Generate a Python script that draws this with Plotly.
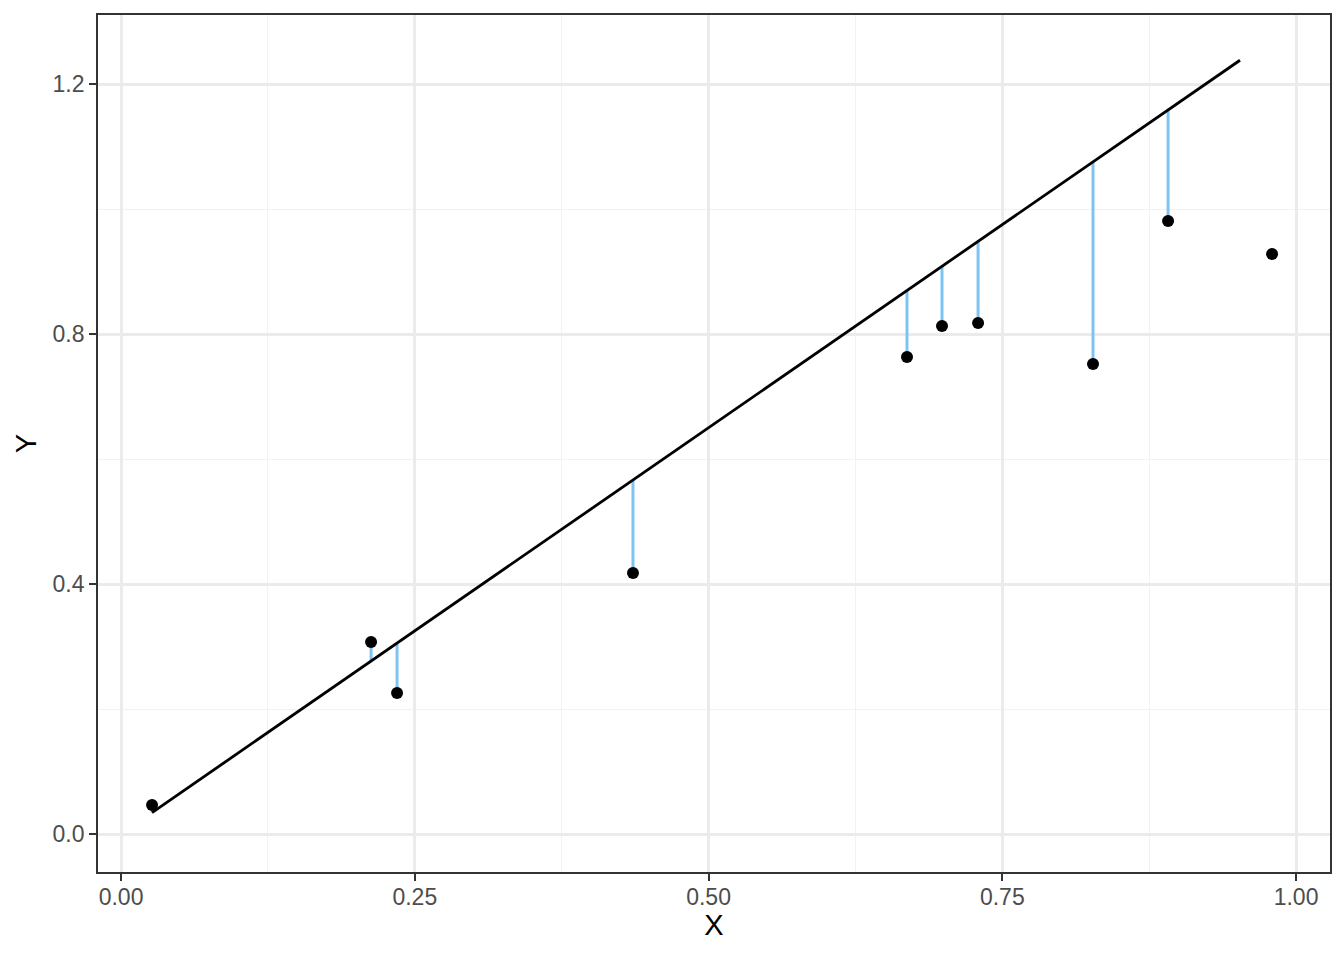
import plotly.graph_objects as go

x_vals = [0.0264, 0.2128, 0.2349, 0.4357, 0.6689, 0.6987, 0.7294, 0.8272, 0.8911, 0.9796]
y_vals = [0.0464, 0.3072, 0.2256, 0.4176, 0.7632, 0.8128, 0.8176, 0.7520, 0.9808, 0.9280]
slope = 1.3
intercept = 0.0
line_x = [0.0264, 0.9523]
n_resid = 9

x_ticks = [0.0, 0.25, 0.5, 0.75, 1.0]
x_tick_text = ["0.00", "0.25", "0.50", "0.75", "1.00"]
y_ticks = [0.0, 0.4, 0.8, 1.2]
y_tick_text = ["0.0", "0.4", "0.8", "1.2"]

fig = go.Figure()

seg_x, seg_y = [], []
for xv, yv in zip(x_vals[:n_resid], y_vals[:n_resid]):
    seg_x += [xv, xv, None]
    seg_y += [yv, intercept + slope * xv, None]
fig.add_trace(go.Scatter(x=seg_x, y=seg_y, mode="lines",
                         line=dict(color="#7DC4F2", width=3), hoverinfo="skip"))

fig.add_trace(go.Scatter(x=line_x, y=[intercept + slope * v for v in line_x], mode="lines",
                         line=dict(color="black", width=2.8)))

fig.add_trace(go.Scatter(x=x_vals, y=y_vals, mode="markers",
                         marker=dict(color="black", size=12)))

axis_common = dict(
    showline=True, linecolor="#333333", linewidth=1.8, mirror=True,
    ticks="outside", ticklen=7, tickcolor="#333333", tickwidth=2,
    gridcolor="#EBEBEB", gridwidth=2.5,
    minor=dict(showgrid=True, gridcolor="#F2F2F2", gridwidth=1.3),
    zeroline=False,
    tickfont=dict(family="Liberation Sans, Arial, sans-serif", size=23, color="#4D4D4D"),
    title_font=dict(family="Liberation Sans, Arial, sans-serif", size=29, color="black"),
)

fig.update_xaxes(range=[-0.0196, 1.0289], tickvals=x_ticks, ticktext=x_tick_text,
                 minor_tickvals=[0.125, 0.375, 0.625, 0.875],
                 ticklabelstandoff=-4,
                 title_text="X", title_standoff=5, **axis_common)
fig.update_yaxes(range=[-0.0608, 1.3104], tickvals=y_ticks, ticktext=y_tick_text,
                 minor_tickvals=[0.2, 0.6, 1.0],
                 title_text="Y", title_standoff=7, **axis_common)

fig.update_layout(
    width=1344, height=960,
    margin=dict(l=98, r=14, t=15, b=88),
    plot_bgcolor="white", paper_bgcolor="white",
    showlegend=False,
)

fig.write_html("out.html", config={"displayModeBar": False},
               post_script="document.body.style.margin='0px';")
